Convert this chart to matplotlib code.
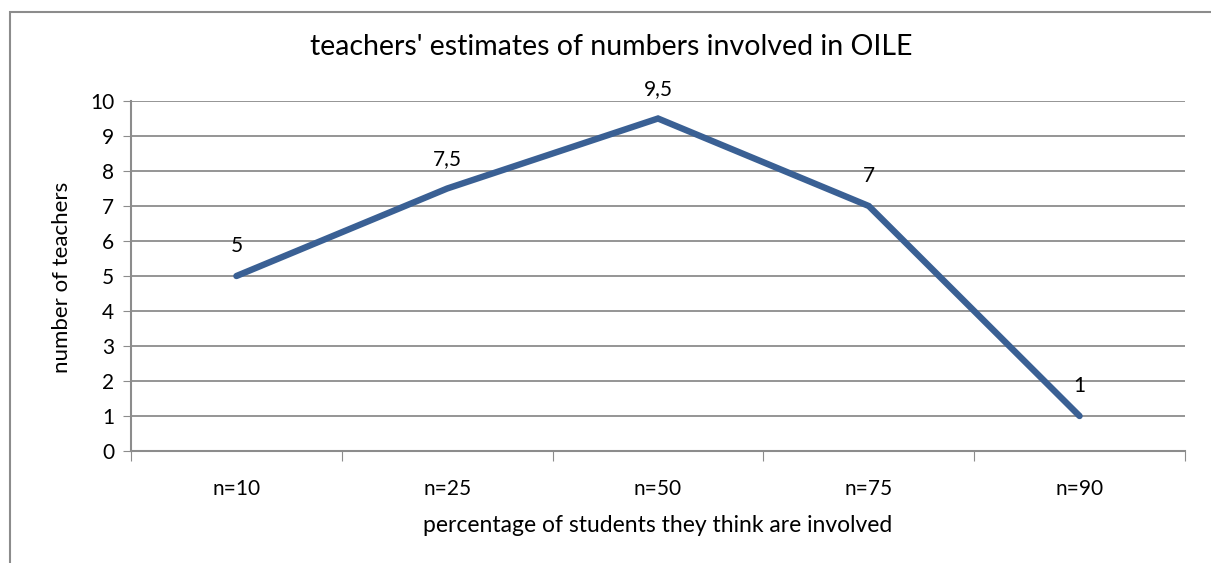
import matplotlib.pyplot as plt
from matplotlib.ticker import FixedLocator
from matplotlib.patches import Rectangle

categories = ['n=10', 'n=25', 'n=50', 'n=75', 'n=90']
teachers = [5, 7.5, 9.5, 7, 1]
y_ticks = list(range(0, 11))

plt.rcParams['font.family'] = ['Lato', 'DejaVu Sans']

fig = plt.figure(figsize=(12.11, 5.63), dpi=100)
# outer chart frame (only left and top edges show in the crop)
fig.patches.append(Rectangle((0.0083, -0.1), 1.2, 1.0787, transform=fig.transFigure,
                             fill=False, edgecolor='#8c8c8c', linewidth=1.5))

ax = fig.add_axes([0.1082, 0.1989, 0.8703, 0.6217])
x = list(range(len(categories)))
ax.plot(x, teachers, color='#3a6094', linewidth=4.6, solid_capstyle='round',
        solid_joinstyle='miter', zorder=3)

for xi, v in zip(x, teachers):
    lbl = ('%g' % v).replace('.', ',')
    ax.annotate(lbl, (xi, v), xytext=(0, 21.5), textcoords='offset points',
                ha='center', va='center', fontsize=15)

ax.set_xlim(-0.5, len(categories) - 0.5)
ax.set_ylim(0, 10)
ax.set_yticks(y_ticks)
ax.tick_params(axis='y', length=6, color='#8c8c8c', labelsize=15, pad=6)
ax.yaxis.grid(True, color='#8c8c8c', linewidth=1.3)
ax.set_axisbelow(True)

ax.xaxis.set_major_locator(FixedLocator([i - 0.5 for i in range(len(categories) + 1)]))
ax.set_xticklabels([''] * (len(categories) + 1))
ax.xaxis.set_minor_locator(FixedLocator(x))
ax.set_xticklabels(categories, minor=True)
ax.tick_params(axis='x', which='major', length=7, color='#8c8c8c')
ax.tick_params(axis='x', which='minor', length=0, labelsize=15, pad=20)

for s in ['top', 'right']:
    ax.spines[s].set_visible(False)
for s in ['left', 'bottom']:
    ax.spines[s].set_color('#8c8c8c')
    ax.spines[s].set_linewidth(1.5)

fig.text(0.5045, 0.9165, "teachers' estimates of numbers involved in OILE",
         ha='center', va='center', fontsize=20.5)
fig.text(0.5433, 0.067, 'percentage of students they think are involved',
         ha='center', va='center', fontsize=16.5)
fig.text(0.051, 0.508, 'number of teachers', rotation=90,
         ha='center', va='center', fontsize=16)

fig.savefig('out.png', dpi=100)
